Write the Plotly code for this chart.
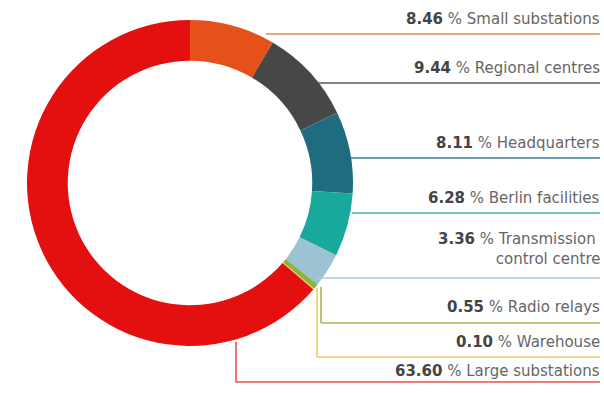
import plotly.graph_objects as go

W, H = 604, 393

# Share of the portfolio, clockwise from 12 o'clock
categories = ["Small substations", "Regional centres", "Headquarters", "Berlin facilities",
              "Transmission&nbsp;<br>control centre", "Radio relays", "Warehouse", "Large substations"]
shares = [8.46, 9.44, 8.11, 6.28, 3.36, 0.55, 0.10, 63.60]
colors = ["#E5501B", "#474747", "#1F6C80", "#18A89C", "#9DC3D3", "#8CB43A", "#F0C457", "#E3100F"]
line_colors = ["#E8845A", "#5A5A5A", "#3B7F93", "#3DB3A8", "#A9CCDA", "#9BBF4A", "#EFC870", "#E8504A"]

# Leader geometry in pixels: (x start, y of the horizontal rule, optional vertical drop start y)
leaders = [
    (266, 34, None),
    (318, 83, None),
    (351, 158, None),
    (352, 213, None),
    (316, 278, None),
    (321, 323, 287),
    (317, 357, 288),
    (236, 382, 342),
]
label_y = [19, 68, 143, 198, 249, 307, 342, 371]


def px(x):
    return x / W


def py(y):
    return 1 - y / H


fig = go.Figure(go.Pie(
    labels=categories,
    values=shares,
    marker=dict(colors=colors, line=dict(width=0)),
    hole=0.75,
    sort=False,
    direction="clockwise",
    rotation=0,
    textinfo="none",
    hoverinfo="label+percent",
    showlegend=False,
    domain=dict(x=[px(27), px(353)], y=[py(347), py(19)]),
))

shapes = []
for (x0, y, ytop), c in zip(leaders, line_colors):
    shapes.append(dict(type="line", xref="paper", yref="paper",
                       x0=px(x0), x1=px(600), y0=py(y), y1=py(y),
                       line=dict(color=c, width=1.6)))
    if ytop is not None:
        shapes.append(dict(type="line", xref="paper", yref="paper",
                           x0=px(x0), x1=px(x0), y0=py(ytop), y1=py(y),
                           line=dict(color=c, width=1.6)))

annotations = []
for name, v, y in zip(categories, shares, label_y):
    annotations.append(dict(
        xref="paper", yref="paper", x=px(602), y=py(y),
        xanchor="right", yanchor="middle",
        align="right", showarrow=False,
        text=f"<b><span style='color:#444'>{v:.2f}</span></b> % {name}",
        font=dict(family="DejaVu Sans", size=15, color="#666666"),
    ))

fig.update_layout(
    width=W, height=H,
    margin=dict(l=0, r=0, t=0, b=0),
    paper_bgcolor="white", plot_bgcolor="white",
    shapes=shapes, annotations=annotations,
)

fig.write_html("out.html")
